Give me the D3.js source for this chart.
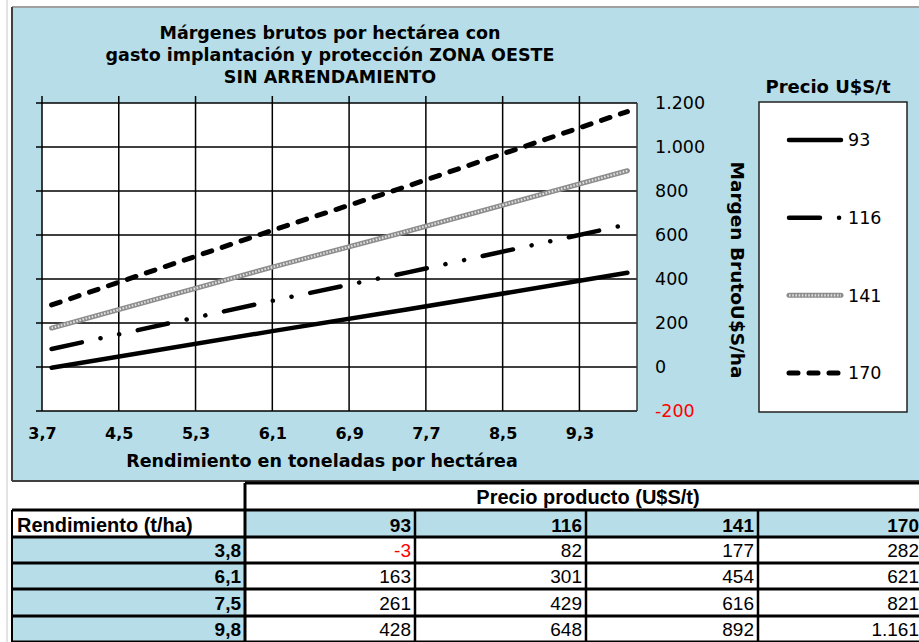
<html>
<head>
<meta charset="utf-8">
<script src="https://d3js.org/d3.v7.min.js"></script>
<style>
  body { margin: 0; background: #fff; }
  svg { display: block; }
</style>
</head>
<body>
<svg width="919" height="642"></svg>
<script>
// datos de la tabla (rendimiento t/ha x precio U$S/t)
var rendimiento = [3.8, 6.1, 7.5, 9.8];
var precios = [93, 116, 141, 170];
var margen93 = [-3, 163, 261, 428];
var margen116 = [82, 301, 429, 648];
var margen141 = [177, 454, 616, 892];
var margen170 = [282, 621, 821, 1161];
var xTicks = [3.7, 4.5, 5.3, 6.1, 6.9, 7.7, 8.5, 9.3];
var yTicks = [-200, 0, 200, 400, 600, 800, 1000, 1200];

var series = [
    {precio: precios[0], valores: margen93},
    {precio: precios[1], valores: margen116},
    {precio: precios[2], valores: margen141},
    {precio: precios[3], valores: margen170}
];

var azul = "#b7dee8";
var es = d3.formatLocale({decimal: ",", thousands: ".", grouping: [3], currency: ["", ""], minus: "-"});
var fmtY = es.format(",d");
var fmtX = es.format(".1f");

var svg = d3.select("svg");

// fondo hoja de calculo
svg.append("line").attr("x1", 7).attr("x2", 7).attr("y1", 0).attr("y2", 642)
    .attr("stroke", "#c8c8c8").attr("stroke-width", 1);

// area del grafico
svg.append("rect").attr("x", 12).attr("y", 7).attr("width", 920).attr("height", 474)
    .attr("fill", azul);
svg.append("line").attr("x1", 12).attr("x2", 919).attr("y1", 7).attr("y2", 7)
    .attr("stroke", "#a0a0a0").attr("stroke-width", 2);
svg.append("line").attr("x1", 12).attr("x2", 12).attr("y1", 7).attr("y2", 481)
    .attr("stroke", "#404040").attr("stroke-width", 2);
svg.append("line").attr("x1", 12).attr("x2", 919).attr("y1", 481).attr("y2", 481)
    .attr("stroke", "#404040").attr("stroke-width", 2);

// titulo
var titulo = ["Márgenes brutos por hectárea con",
              "gasto implantación y protección ZONA OESTE",
              "SIN ARRENDAMIENTO"];
svg.append("g").selectAll("text").data(titulo).enter().append("text")
    .attr("x", 330).attr("y", function(d, i){ return 39 + i * 22; })
    .attr("text-anchor", "middle")
    .style("font-family", "DejaVu Sans").style("font-weight", "bold").style("font-size", "17.5px")
    .text(function(d){ return d; });

// escalas
var marge = {left: 42, top: 103, right: 637, bottom: 411};
var x = d3.scaleLinear().domain([3.7, 9.9]).range([marge.left, marge.right]);
var y = d3.scaleLinear().domain([-200, 1200]).range([marge.bottom, marge.top]);

var g = svg.append("g");
g.append("rect").attr("x", marge.left).attr("y", marge.top)
    .attr("width", marge.right - marge.left).attr("height", marge.bottom - marge.top)
    .attr("fill", "#fff");

// grilla
g.append("g").selectAll("line").data(yTicks).enter().append("line")
    .attr("x1", marge.left - 6).attr("x2", marge.right)
    .attr("y1", function(d){ return y(d); }).attr("y2", function(d){ return y(d); })
    .attr("stroke", "#000").attr("stroke-width", 1.5);
g.append("g").selectAll("line").data(xTicks).enter().append("line")
    .attr("x1", function(d){ return x(d); }).attr("x2", function(d){ return x(d); })
    .attr("y1", marge.top - 7).attr("y2", marge.bottom)
    .attr("stroke", "#000").attr("stroke-width", 1.5);
g.append("line").attr("x1", marge.right).attr("x2", marge.right)
    .attr("y1", marge.top).attr("y2", marge.bottom)
    .attr("stroke", "#333").attr("stroke-width", 1.5);

// etiquetas eje x
var xAxis = d3.axisBottom(x).tickValues(xTicks).tickFormat(fmtX).tickSize(0).tickPadding(0);
var gx = svg.append("g").attr("transform", "translate(0,428)").call(xAxis);
gx.select(".domain").remove();
gx.selectAll("text").attr("dy", "0.71em")
    .style("font-family", "DejaVu Sans").style("font-weight", "bold").style("font-size", "16px")
    .attr("fill", "#000");

svg.append("text").attr("x", 322).attr("y", 467).attr("text-anchor", "middle")
    .style("font-family", "DejaVu Sans").style("font-weight", "bold").style("font-size", "17.5px")
    .text("Rendimiento en toneladas por hectárea");

// etiquetas eje y (a la derecha)
var yAxis = d3.axisRight(y).tickValues(yTicks).tickFormat(fmtY).tickSize(0).tickPadding(0);
var gy = svg.append("g").attr("transform", "translate(655,0)").call(yAxis);
gy.select(".domain").remove();
gy.selectAll("text")
    .style("font-family", "DejaVu Sans").style("font-size", "17.5px")
    .attr("fill", function(d){ return d < 0 ? "#ff0000" : "#000"; });

svg.append("text").attr("transform", "translate(731,270) rotate(90)")
    .attr("text-anchor", "middle")
    .style("font-family", "DejaVu Sans").style("font-weight", "bold").style("font-size", "18.5px")
    .text("Margen BrutoU$S/ha");

// estilos de linea
var estilos = [
    [{color: "#000", width: 4.5, dash: null}],
    [{color: "#000", width: 4.5, dash: "31,19,0.1,19,0.1,19"}],
    [{color: "#8c8c8c", width: 5, dash: null}, {color: "#e0e0e0", width: 2.2, dash: "1.6,1.6"}],
    [{color: "#000", width: 5, dash: "9,11"}]
];

var linea = d3.line()
    .x(function(d, i){ return x(rendimiento[i]); })
    .y(function(d){ return y(d); });

series.forEach(function(s, k){
    estilos[k].forEach(function(e){
        g.append("path").attr("d", linea(s.valores))
            .attr("fill", "none").attr("stroke", e.color).attr("stroke-width", e.width)
            .attr("stroke-linecap", e.dash && e.dash.indexOf("1.6") === 0 ? "butt" : "round")
            .attr("stroke-dasharray", e.dash);
    });
});

// leyenda
svg.append("text").attr("x", 828).attr("y", 93).attr("text-anchor", "middle")
    .style("font-family", "DejaVu Sans").style("font-weight", "bold").style("font-size", "18px")
    .text("Precio U$S/t");
svg.append("rect").attr("x", 759).attr("y", 102).attr("width", 148).attr("height", 310)
    .attr("fill", "#fff").attr("stroke", "#222").attr("stroke-width", 1.5);

var leyY = d3.scalePoint().domain(precios).range([140, 373]);
series.forEach(function(s, k){
    var ly = leyY(s.precio);
    estilos[k].forEach(function(e){
        svg.append("line").attr("x1", 789).attr("x2", 841).attr("y1", ly).attr("y2", ly)
            .attr("stroke", e.color).attr("stroke-width", e.width)
            .attr("stroke-linecap", e.dash && e.dash.indexOf("1.6") === 0 ? "butt" : "round")
            .attr("stroke-dasharray", e.dash);
    });
    svg.append("text").attr("x", 848).attr("y", ly).attr("dy", "0.36em")
        .style("font-family", "DejaVu Sans").style("font-size", "17.5px")
        .text(s.precio);
});

// tabla
var tabla = svg.append("g");
var colX = [12, 245, 415, 586, 758, 923];
var filaY = [483, 510, 537, 563, 589, 616, 642];
var celda = function(x0, x1, y0, y1, fill){
    tabla.append("rect").attr("x", x0).attr("y", y0).attr("width", x1 - x0).attr("height", y1 - y0)
        .attr("fill", fill);
};
var texto = function(t, xx, yy, anchor, bold, color, size){
    tabla.append("text").attr("x", xx).attr("y", yy).attr("text-anchor", anchor)
        .style("font-family", "Liberation Sans, Arial").style("font-size", (size || 19) + "px")
        .style("font-weight", bold ? "bold" : "normal").attr("fill", color || "#000")
        .text(t);
};

// encabezados
celda(colX[1], 919, filaY[0], filaY[1], "#fff");
texto("Precio producto (U$S/t)", 588, filaY[1] - 6, "middle", true, null, 20);
celda(colX[0], colX[1], filaY[1], filaY[2], "#fff");
texto("Rendimiento (t/ha)", colX[0] + 5, filaY[2] - 5, "start", true, null, 20);
precios.forEach(function(p, j){
    celda(colX[j + 1], colX[j + 2], filaY[1], filaY[2], azul);
    texto(p, colX[j + 2] - 4, filaY[2] - 5, "end", true);
});
rendimiento.forEach(function(r, i){
    var y0 = filaY[i + 2], y1 = filaY[i + 3];
    celda(colX[0], colX[1], y0, y1, azul);
    texto(fmtX(r), colX[1] - 4, y1 - 6, "end", true);
    series.forEach(function(s, j){
        celda(colX[j + 1], colX[j + 2], y0, y1, "#fff");
        var v = s.valores[i];
        texto(fmtY(v), colX[j + 2] - 4, y1 - 6, "end", false, v < 0 ? "#ff0000" : "#000");
    });
});

// bordes de la tabla
tabla.append("line").attr("x1", colX[1]).attr("x2", 919).attr("y1", filaY[0]).attr("y2", filaY[0])
    .attr("stroke", "#000").attr("stroke-width", 3);
filaY.slice(1).forEach(function(yy){
    tabla.append("line").attr("x1", colX[0]).attr("x2", 919).attr("y1", yy).attr("y2", yy)
        .attr("stroke", "#000").attr("stroke-width", 3);
});
tabla.append("line").attr("x1", colX[1]).attr("x2", colX[1]).attr("y1", filaY[0]).attr("y2", 642)
    .attr("stroke", "#000").attr("stroke-width", 3);
tabla.append("line").attr("x1", colX[0]).attr("x2", colX[0]).attr("y1", filaY[1]).attr("y2", 642)
    .attr("stroke", "#000").attr("stroke-width", 2);
colX.slice(2, 5).forEach(function(xx){
    tabla.append("line").attr("x1", xx).attr("x2", xx).attr("y1", filaY[1]).attr("y2", 642)
        .attr("stroke", "#000").attr("stroke-width", 2.5);
});
</script>
</body>
</html>
